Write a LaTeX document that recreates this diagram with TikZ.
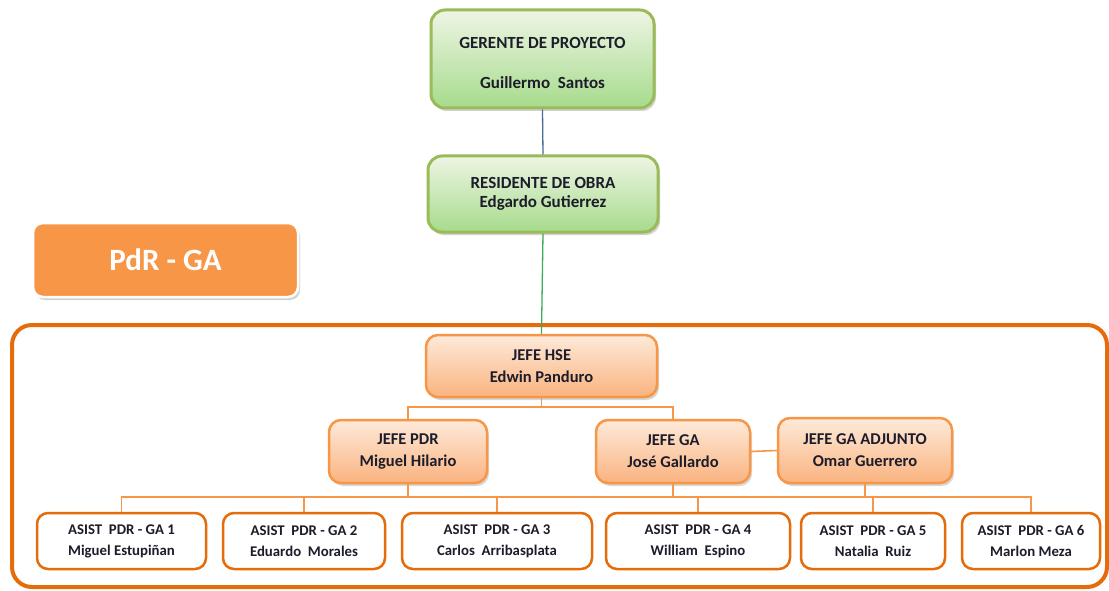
\documentclass[tikz,border=0pt]{standalone}
\usepackage{fontspec}
\setmainfont{Carlito}
\usetikzlibrary{shadows}
\definecolor{grnB}{HTML}{9BBB59}
\definecolor{grnT}{HTML}{EEF5E4}
\definecolor{grnM}{HTML}{A6DB8C}
\definecolor{orB}{HTML}{F79646}
\definecolor{orT}{HTML}{FDEADA}
\definecolor{orM}{HTML}{FAB37F}
\definecolor{orD}{HTML}{E46C0A}
\definecolor{txt}{HTML}{1C1C2A}
\definecolor{blueline}{HTML}{4A6A9C}
\definecolor{grnline}{HTML}{3DAA5C}
\tikzset{
  gbox/.style={draw=grnB, line width=3pt, rounded corners=14pt, top color=grnT, bottom color=grnM,
    drop shadow={opacity=0.35, shadow xshift=2pt, shadow yshift=-3pt},
    align=center, font=\bfseries\fontsize{17}{19}\selectfont, text=txt, inner sep=0pt},
  obox/.style={draw=orB, line width=2.5pt, rounded corners=12pt, top color=orT, bottom color=orM,
    drop shadow={opacity=0.3, shadow xshift=2pt, shadow yshift=-3pt},
    align=center, font=\bfseries\fontsize{16.5}{22}\selectfont, text=txt, inner sep=0pt},
  abox/.style={draw=orD, line width=2.5pt, rounded corners=11pt, fill=white,
    align=center, font=\bfseries\fontsize{14.8}{21}\selectfont, text=txt, inner sep=0pt},
  conn/.style={draw=orB, line width=1.6pt},
}
\begin{document}
\begin{tikzpicture}[x=1pt,y=-1pt]
\useasboundingbox (0,0) rectangle (1109,591);
\fill[white] (0,0) rectangle (1109,591);
% frame
\draw[draw=orD, line width=4pt, rounded corners=20pt] (12,325) rectangle (1107,587);
% label box
\node[draw=white, line width=2.5pt, rounded corners=10pt, fill=orB,
  drop shadow={opacity=0.35, shadow xshift=2pt, shadow yshift=-3pt},
  minimum width=265pt, minimum height=74pt, text=white,
  font=\bfseries\fontsize{31}{34}\selectfont] (pdr) at (165.5,260) {PdR - GA};
% green boxes
\node[gbox, minimum width=223pt, minimum height=98pt] (ger) at (542.5,59)
  {\rule{0pt}{19pt}GERENTE DE PROYECTO\\[21pt]Guillermo\ \ Santos};
\node[gbox, minimum width=230pt, minimum height=76pt] (res) at (543,194)
  {RESIDENTE DE OBRA\\Edgardo Gutierrez};
% orange boxes
\node[obox, minimum width=231pt, minimum height=62pt] (hse) at (541.5,366)
  {JEFE HSE\\Edwin Panduro};
\node[obox, minimum width=158pt, minimum height=63pt] (jpdr) at (408,451.5)
  {JEFE PDR\\Miguel Hilario};
\node[obox, minimum width=154pt, minimum height=63pt] (jga) at (673,451.5)
  {JEFE GA\\José Gallardo};
\node[obox, minimum width=174pt, minimum height=65pt] (jadj) at (865,450.5)
  {JEFE GA ADJUNTO\\Omar Guerrero};
% assistants
\node[abox, minimum width=169pt, minimum height=56pt] (a1) at (121.5,541)
  {ASIST\ \ PDR - GA 1\\Miguel Estupiñan};
\node[abox, minimum width=162pt, minimum height=56pt] (a2) at (304,541)
  {ASIST\ \ PDR - GA 2\\Eduardo\ \ Morales};
\node[abox, minimum width=190pt, minimum height=56pt] (a3) at (497,541)
  {ASIST\ \ PDR - GA 3\\Carlos\ \ Arribasplata};
\node[abox, minimum width=184pt, minimum height=56pt] (a4) at (698,541)
  {ASIST\ \ PDR - GA 4\\William\ \ Espino};
\node[abox, minimum width=144pt, minimum height=56pt] (a5) at (873,541)
  {ASIST\ \ PDR - GA 5\\Natalia\ \ Ruiz};
\node[abox, minimum width=138pt, minimum height=56pt] (a6) at (1031,541)
  {ASIST\ \ PDR - GA 6\\Marlon Meza};
% connectors
\draw[blueline, line width=1.3pt] (ger.south) -- (res.north);
\draw[grnline, line width=1.3pt] (res.south) -- (hse.north);
\coordinate (bus1) at (0,407);
\coordinate (bus2) at (0,497);
\draw[conn] (hse.south) -- (hse.south |- bus1);
\draw[conn] (jpdr.north) -- (jpdr.north |- bus1) -- (jga.north |- bus1) -- (jga.north);
\draw[conn] (jga.east) -- (jadj.west);
\draw[conn] (a1.north) -- (a1.north |- bus2) -- (a6.north |- bus2) -- (a6.north);
\foreach \n in {a2,a3,a4,a5}{\draw[conn] (\n.north) -- (\n.north |- bus2);}
\foreach \n in {jpdr,jga,jadj}{\draw[conn] (\n.south) -- (\n.south |- bus2);}
\end{tikzpicture}
\end{document}
